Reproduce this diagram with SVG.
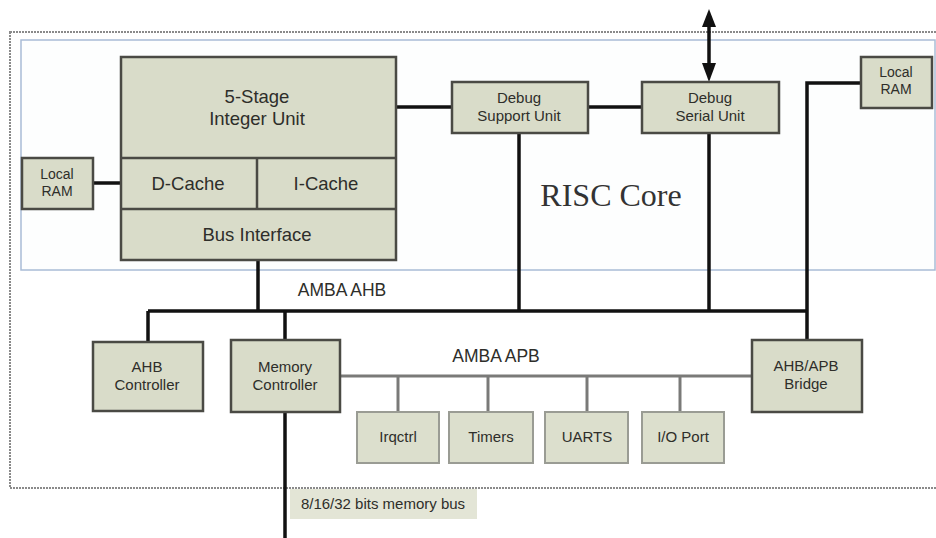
<svg xmlns="http://www.w3.org/2000/svg" width="936" height="538" viewBox="0 0 936 538">
<style>
.box{fill:#d9dcc9;stroke:#4a4a44;stroke-width:2.5}
.pbox{fill:#dcdfcd;stroke:#9a9c94;stroke-width:2}
.t{font-family:"Liberation Sans",Arial,sans-serif;fill:#2e2e2a;text-anchor:middle}
.bus{stroke:#111;stroke-width:3.5;fill:none}
.apb{stroke:#7a7a78;stroke-width:3;fill:none}
.div{stroke:#4a4a44;stroke-width:2.5}
</style>
<rect width="936" height="538" fill="#fff"/>
<rect id="outer" x="10" y="32" width="934" height="456" fill="none" stroke="#8a8a8a" stroke-width="2" stroke-dasharray="2 1"/>
<rect id="risc" x="21" y="40" width="914" height="230" fill="#fdfefe" stroke="#a9bcd6" stroke-width="1.5"/>
<text class="t" x="611" y="206" style="font-family:'Liberation Serif','Times New Roman',serif;font-size:32px;fill:#333">RISC Core</text>

<g id="connectors">
<line class="bus" x1="93" y1="183" x2="121" y2="183"/>
<line class="bus" x1="396" y1="107" x2="452" y2="107"/>
<line class="bus" x1="588" y1="107" x2="642" y2="107"/>
<line class="bus" x1="709" y1="27" x2="709" y2="64" stroke-width="2.5"/>
<path d="M702,27 L709,9 L716,27 z" fill="#111"/>
<path d="M702,63 L709,82 L716,63 z" fill="#111"/>
<line class="bus" x1="519" y1="133" x2="519" y2="311"/>
<line class="bus" x1="709" y1="133" x2="709" y2="311"/>
<polyline class="bus" points="861,83 807,83 807,340"/>
<line class="bus" x1="258" y1="260" x2="258" y2="311"/>
<line class="bus" x1="148" y1="311" x2="807" y2="311"/>
<line class="bus" x1="148" y1="311" x2="148" y2="342"/>
<line class="bus" x1="285" y1="311" x2="285" y2="340"/>
<line class="bus" x1="285" y1="412" x2="285" y2="538"/>
<line class="apb" x1="340" y1="376" x2="752" y2="376"/>
<line class="apb" x1="398" y1="376" x2="398" y2="412"/>
<line class="apb" x1="488" y1="376" x2="488" y2="412"/>
<line class="apb" x1="587" y1="376" x2="587" y2="412"/>
<line class="apb" x1="680" y1="376" x2="680" y2="412"/>
</g>

<g id="integer-unit">
<rect class="box" x="121" y="57" width="275" height="203"/>
<line class="div" x1="121" y1="158" x2="396" y2="158"/>
<line class="div" x1="121" y1="209" x2="396" y2="209"/>
<line class="div" x1="257" y1="158" x2="257" y2="209"/>
<text class="t" x="257" y="103" font-size="18.5">5-Stage</text>
<text class="t" x="257" y="124.5" font-size="18.5">Integer Unit</text>
<text class="t" x="188" y="189.5" font-size="18.5">D-Cache</text>
<text class="t" x="326" y="189.5" font-size="18.5">I-Cache</text>
<text class="t" x="257" y="240.5" font-size="18.5">Bus Interface</text>
</g>

<g id="local-ram-left">
<rect class="box" x="22" y="158" width="71" height="51"/>
<text class="t" x="57" y="179" font-size="14">Local</text>
<text class="t" x="57" y="196" font-size="14">RAM</text>
</g>

<g id="debug-support">
<rect class="box" x="452" y="82" width="136" height="51"/>
<text class="t" x="519" y="103" font-size="15">Debug</text>
<text class="t" x="519" y="121" font-size="15">Support Unit</text>
</g>

<g id="debug-serial">
<rect class="box" x="642" y="82" width="137" height="51"/>
<text class="t" x="710" y="103" font-size="15">Debug</text>
<text class="t" x="710" y="121" font-size="15">Serial  Unit</text>
</g>

<g id="local-ram-right">
<rect class="box" x="861" y="57" width="71" height="51"/>
<text class="t" x="896" y="77" font-size="14">Local</text>
<text class="t" x="896" y="94" font-size="14">RAM</text>
</g>

<g id="ahb-controller">
<rect class="box" x="93" y="342" width="110" height="69"/>
<text class="t" x="147" y="372" font-size="15">AHB</text>
<text class="t" x="147" y="390" font-size="15">Controller</text>
</g>

<g id="memory-controller">
<rect class="box" x="231" y="340" width="109" height="72"/>
<text class="t" x="285" y="372" font-size="15">Memory</text>
<text class="t" x="285" y="390" font-size="15">Controller</text>
</g>

<g id="bridge">
<rect class="box" x="752" y="340" width="110" height="72"/>
<text class="t" x="806" y="371" font-size="15">AHB/APB</text>
<text class="t" x="806" y="389" font-size="15">Bridge</text>
</g>

<g id="irqctrl">
<rect class="pbox" x="357" y="412" width="82" height="51"/>
<text class="t" x="398" y="442" font-size="15">Irqctrl</text>
</g>
<g id="timers">
<rect class="pbox" x="449" y="412" width="84" height="51"/>
<text class="t" x="491" y="442" font-size="15">Timers</text>
</g>
<g id="uarts">
<rect class="pbox" x="545" y="412" width="83" height="51"/>
<text class="t" x="587" y="442" font-size="15">UARTS</text>
</g>
<g id="io-port">
<rect class="pbox" x="642" y="412" width="82" height="51"/>
<text class="t" x="683" y="442" font-size="15">I/O Port</text>
</g>

<text class="t" x="342" y="296" font-size="17.5">AMBA AHB</text>
<text class="t" x="496" y="362" font-size="17.5">AMBA APB</text>

<g id="memory-bus-label">
<rect x="290" y="489" width="187" height="30" fill="#e3e5d6"/>
<text class="t" x="383" y="509" font-size="15">8/16/32 bits memory bus</text>
</g>
</svg>
